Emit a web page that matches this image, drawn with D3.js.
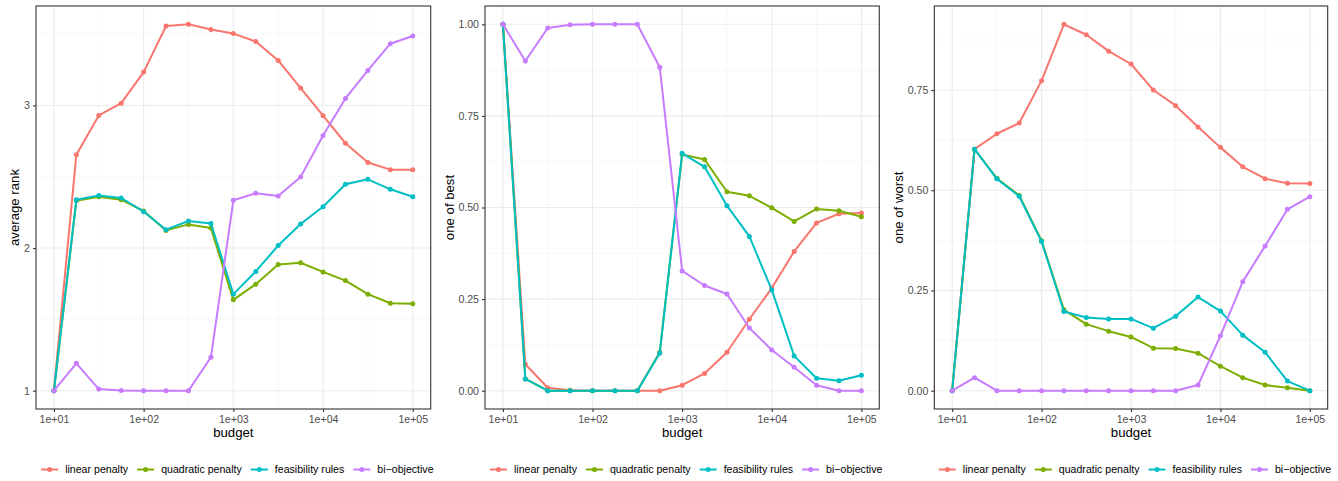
<!DOCTYPE html>
<meta charset="utf-8">
<html>

<head>
    <title>Budget comparison</title>
    <style>
        body { margin: 0; background: #fff; }
        text { font-family: "Liberation Sans", Arial, sans-serif; }
    </style>
</head>

<body>
    <div id="container"></div>

    <script src="https://d3js.org/d3.v7.min.js"></script>

    <script>
        // budgets evaluated (x values)
        const budgets = [10, 17.78, 31.62, 56.23, 100, 177.8, 316.2, 562.3, 1000,
            1778, 3162, 5623, 10000, 17783, 31623, 56234, 100000];
        const xTicks = [10, 100, 1000, 10000, 100000];
        const xTickLabels = ["1e+01", "1e+02", "1e+03", "1e+04", "1e+05"];

        const seriesNames = ["linear penalty", "quadratic penalty", "feasibility rules", "bi\u2212objective"];

        // average rank
        const rankLinear = [1, 2.655, 2.93, 3.016, 3.234, 3.557, 3.569, 3.532, 3.504, 3.448, 3.316, 3.122, 2.928, 2.735, 2.60, 2.55, 2.549];
        const rankQuadratic = [1, 2.332, 2.36, 2.339, 2.26, 2.124, 2.166, 2.14, 1.637, 1.747, 1.885, 1.897, 1.833, 1.772, 1.677, 1.613, 1.61];
        const rankFeasibility = [1, 2.339, 2.368, 2.351, 2.255, 2.129, 2.19, 2.173, 1.677, 1.836, 2.018, 2.169, 2.29, 2.447, 2.482, 2.412, 2.36];
        const rankBiobjective = [1, 1.192, 1.011, 1.002, 1.0, 1.0, 1.0, 1.234, 2.335, 2.384, 2.365, 2.499, 2.789, 3.049, 3.246, 3.433, 3.487];

        // share of runs where the method is one of the best
        const bestLinear = [1, 0.072, 0.008, 0.001, 0, 0, 0, 0, 0.015, 0.047, 0.105, 0.195, 0.28, 0.38, 0.458, 0.483, 0.485];
        const bestQuadratic = [1, 0.032, 0, 0, 0, 0, 0, 0.105, 0.645, 0.631, 0.543, 0.532, 0.499, 0.462, 0.496, 0.491, 0.475];
        const bestFeasibility = [1, 0.032, 0, 0, 0, 0, 0, 0.102, 0.648, 0.611, 0.505, 0.421, 0.275, 0.095, 0.034, 0.027, 0.042];
        const bestBiobjective = [1, 0.90, 0.99, 0.999, 1, 1, 1, 0.883, 0.327, 0.287, 0.264, 0.171, 0.111, 0.064, 0.015, 0, 0];

        // share of runs where the method is one of the worst
        const worstLinear = [0, 0.6025, 0.641, 0.668, 0.7735, 0.914, 0.888, 0.847, 0.815, 0.75, 0.711, 0.658, 0.607, 0.5585, 0.529, 0.5175, 0.517];
        const worstQuadratic = [0, 0.6025, 0.53, 0.487, 0.374, 0.2017, 0.166, 0.1485, 0.134, 0.106, 0.105, 0.0935, 0.061, 0.0325, 0.014, 0.0075, 0];
        const worstFeasibility = [0, 0.6025, 0.5285, 0.485, 0.372, 0.1975, 0.1825, 0.179, 0.179, 0.156, 0.186, 0.2335, 0.1985, 0.1385, 0.096, 0.024, 0];
        const worstBiobjective = [0, 0.0325, 0, 0, 0, 0, 0, 0, 0, 0, 0, 0.014, 0.137, 0.272, 0.361, 0.4525, 0.484];

        const colors = ["#F8766D", "#7CAE00", "#00BFC4", "#C77CFF"];

        const W = 1338, H = 481;
        const panelTop = 6, panelBottom = 409;

        // one entry per sub-plot; left/right are the panel edges in pixels
        const panels = [
            {
                title: "average rank", left: 36, right: 430.7, titleX: 14,
                series: [rankLinear, rankQuadratic, rankFeasibility, rankBiobjective],
                yTicks: [1, 2, 3], yMinor: [1.5, 2.5, 3.5], fmt: d3.format("d")
            },
            {
                title: "one of best", left: 485, right: 879.3, titleX: 449,
                series: [bestLinear, bestQuadratic, bestFeasibility, bestBiobjective],
                yTicks: [0, 0.25, 0.5, 0.75, 1], yMinor: [0.125, 0.375, 0.625, 0.875], fmt: d3.format(".2f")
            },
            {
                title: "one of worst", left: 934.3, right: 1327.7, titleX: 898.5,
                series: [worstLinear, worstQuadratic, worstFeasibility, worstBiobjective],
                yTicks: [0, 0.25, 0.5, 0.75], yMinor: [0.125, 0.375, 0.625, 0.875], fmt: d3.format(".2f")
            }
        ];

        const svg = d3.select("#container").append("svg")
            .attr("width", W)
            .attr("height", H);

        // expand a domain by 5% on each side like ggplot does
        function expand(lo, hi) {
            const pad = (hi - lo) * 0.05;
            return [lo - pad, hi + pad];
        }

        panels.forEach(p => {
            const g = svg.append("g");
            const allVals = d3.merge(p.series);
            const y = d3.scaleLinear()
                .domain(expand(d3.min(allVals), d3.max(allVals)))
                .range([panelBottom, panelTop]);
            const lx = expand(1, 5);
            const x = d3.scaleLog()
                .domain([Math.pow(10, lx[0]), Math.pow(10, lx[1])])
                .range([p.left, p.right]);

            // minor grid
            const xMinor = [31.62, 316.2, 3162, 31623];
            g.append("g").selectAll("line").data(xMinor).join("line")
                .attr("x1", d => x(d)).attr("x2", d => x(d))
                .attr("y1", panelTop).attr("y2", panelBottom)
                .attr("stroke", "#f4f4f4").attr("stroke-width", 0.6);
            g.append("g").selectAll("line").data(p.yMinor.filter(v => y(v) > panelTop && y(v) < panelBottom)).join("line")
                .attr("x1", p.left).attr("x2", p.right)
                .attr("y1", d => y(d)).attr("y2", d => y(d))
                .attr("stroke", "#f4f4f4").attr("stroke-width", 0.6);

            // major grid
            g.append("g").selectAll("line").data(xTicks).join("line")
                .attr("x1", d => x(d)).attr("x2", d => x(d))
                .attr("y1", panelTop).attr("y2", panelBottom)
                .attr("stroke", "#ebebeb").attr("stroke-width", 1.1);
            g.append("g").selectAll("line").data(p.yTicks).join("line")
                .attr("x1", p.left).attr("x2", p.right)
                .attr("y1", d => y(d)).attr("y2", d => y(d))
                .attr("stroke", "#ebebeb").attr("stroke-width", 1.1);

            // series lines + points
            const line = d3.line()
                .x((d, i) => x(budgets[i]))
                .y(d => y(d));

            p.series.forEach((vals, k) => {
                g.append("path")
                    .datum(vals)
                    .attr("d", line)
                    .attr("fill", "none")
                    .attr("stroke", colors[k])
                    .attr("stroke-width", 2)
                    .attr("stroke-linejoin", "round");
                g.append("g").selectAll("circle").data(vals).join("circle")
                    .attr("cx", (d, i) => x(budgets[i]))
                    .attr("cy", d => y(d))
                    .attr("r", 2.5)
                    .attr("fill", colors[k]);
            });

            // panel border
            g.append("rect")
                .attr("x", p.left).attr("y", panelTop)
                .attr("width", p.right - p.left).attr("height", panelBottom - panelTop)
                .attr("fill", "none").attr("stroke", "#333").attr("stroke-width", 1.1);

            // axes
            const xAxis = d3.axisBottom(x)
                .tickValues(xTicks)
                .tickFormat((d, i) => xTickLabels[i])
                .tickSize(3).tickPadding(3);
            const gx = g.append("g")
                .attr("transform", `translate(0,${panelBottom})`)
                .call(xAxis);
            const yAxis = d3.axisLeft(y)
                .tickValues(p.yTicks)
                .tickFormat(p.fmt)
                .tickSize(3).tickPadding(3);
            const gy = g.append("g")
                .attr("transform", `translate(${p.left},0)`)
                .call(yAxis);
            [gx, gy].forEach(a => {
                a.select(".domain").remove();
                a.selectAll(".tick line").attr("stroke", "#333").attr("stroke-width", 1.1);
                a.selectAll(".tick text")
                    .attr("fill", "#4d4d4d")
                    .style("font-size", "10.6px")
                    .style("font-family", "'Liberation Sans', Arial, sans-serif");
            });

            // axis titles
            g.append("text")
                .attr("x", (p.left + p.right) / 2)
                .attr("y", 437)
                .attr("text-anchor", "middle")
                .style("font-size", "13.2px")
                .text("budget");
            g.append("text")
                .attr("transform", `translate(${p.titleX + 4.5},${(panelTop + panelBottom) / 2}) rotate(-90)`)
                .attr("text-anchor", "middle")
                .style("font-size", "13.2px")
                .text(p.title);

            // legend
            const leg = g.append("g");
            let cx = 0;
            seriesNames.forEach((name, k) => {
                const item = leg.append("g").attr("transform", `translate(${cx},0)`);
                item.append("line")
                    .attr("x1", 0).attr("x2", 17)
                    .attr("y1", 0).attr("y2", 0)
                    .attr("stroke", colors[k]).attr("stroke-width", 2);
                item.append("circle")
                    .attr("cx", 8.5).attr("cy", 0).attr("r", 2.5)
                    .attr("fill", colors[k]);
                const t = item.append("text")
                    .attr("x", 24).attr("y", 3.7)
                    .style("font-size", "10.6px")
                    .attr("fill", "#000")
                    .text(name);
                cx += 24 + t.node().getComputedTextLength() + 9;
            });
            const legW = cx - 9;
            leg.attr("transform", `translate(${(p.left + p.right) / 2 + 4 - legW / 2},469.5)`);
        });
    </script>
</body>

</html>
